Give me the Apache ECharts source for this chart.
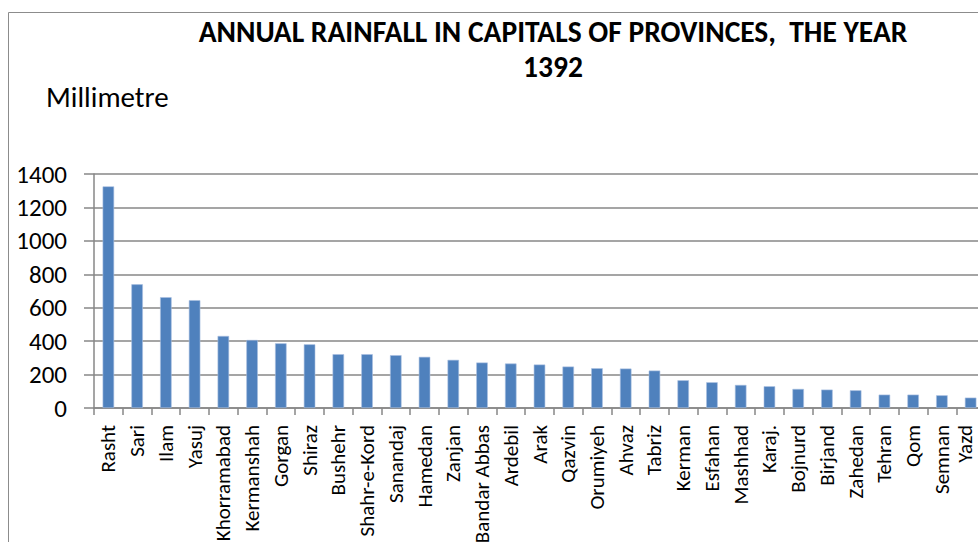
<!DOCTYPE html>
<html>
<head>
<meta charset="utf-8">
<title>Annual rainfall in capitals of provinces, 1392</title>
<script src="https://cdn.jsdelivr.net/npm/echarts@6/dist/echarts.min.js"></script>
<style>
  html, body { margin: 0; padding: 0; background: #ffffff; }
  #chart { width: 978px; height: 542px; }
</style>
</head>
<body>
<div id="chart"></div>
<script>
// Province capitals, ordered from wettest to driest
const cities = [
  'Rasht', 'Sari', 'Ilam', 'Yasuj', 'Khorramabad', 'Kermanshah', 'Gorgan', 'Shiraz',
  'Bushehr', 'Shahr-e-Kord', 'Sanandaj', 'Hamedan', 'Zanjan', 'Bandar Abbas', 'Ardebil',
  'Arak', 'Qazvin', 'Orumiyeh', 'Ahvaz', 'Tabriz', 'Kerman', 'Esfahan', 'Mashhad',
  'Karaj.', 'Bojnurd', 'Birjand', 'Zahedan', 'Tehran', 'Qom', 'Semnan', 'Yazd'
];

// Annual rainfall, millimetres
const rainfall = [
  1326, 740, 663, 645, 431, 407, 387, 381,
  322, 322, 316, 306, 288, 272, 266,
  260, 248, 238, 236, 224, 166, 154, 138,
  130, 114, 110, 106, 80, 80, 76, 62
];

// Value axis ticks
const yTicks = [0, 200, 400, 600, 800, 1000, 1200, 1400];

const titleLines = ['ANNUAL RAINFALL IN CAPITALS OF PROVINCES,  THE YEAR', '1392'];
const unitLabel = 'Millimetre';

const FONT = 'Carlito, Lato, "Open Sans", sans-serif';
const AXIS_GREY = '#878787';

// The last category sits at the right edge of the page; its label gets a
// little extra padding so the rotated text stays inside the canvas.
const lastIndex = cities.length - 1;
const labelFormatter = (name, idx) => (idx === lastIndex ? '{edge|' + name + '}' : name);

const chart = echarts.init(document.getElementById('chart'), null, { renderer: 'svg' });

chart.setOption({
  backgroundColor: '#ffffff',
  animation: false,
  graphic: [
    {
      type: 'rect',
      shape: { x: 8.5, y: 12.5, width: 1200, height: 700 },
      style: { fill: 'none', stroke: '#8c8c8c', lineWidth: 1 },
      silent: true,
      z: -1
    },
    {
      type: 'text',
      x: 553, y: 32,
      style: {
        text: titleLines[0],
        font: 'bold 29.5px ' + FONT,
        fill: '#000000',
        textAlign: 'center',
        textVerticalAlign: 'middle'
      }
    },
    {
      type: 'text',
      x: 553, y: 67,
      style: {
        text: titleLines[1],
        font: 'bold 29.5px ' + FONT,
        fill: '#000000',
        textAlign: 'center',
        textVerticalAlign: 'middle'
      }
    },
    {
      type: 'text',
      x: 46, y: 97,
      style: {
        text: unitLabel,
        font: '29px ' + FONT,
        fill: '#000000',
        textAlign: 'left',
        textVerticalAlign: 'middle'
      }
    }
  ],
  grid: {
    left: 94,
    top: 174,
    width: 891,
    height: 234,
    containLabel: false,
    outerBoundsMode: 'none'
  },
  xAxis: {
    type: 'category',
    data: cities,
    boundaryGap: true,
    axisLine: { lineStyle: { color: AXIS_GREY, width: 1.5 } },
    axisTick: { show: true, alignWithLabel: false, length: 7, lineStyle: { color: AXIS_GREY, width: 1.5 } },
    axisLabel: {
      interval: 0,
      rotate: 90,
      margin: 17,
      color: '#000000',
      fontFamily: FONT,
      fontSize: 21,
      formatter: labelFormatter,
      rich: {
        edge: {
          fontFamily: FONT,
          fontSize: 21,
          color: '#000000',
          padding: [0, 0, 12, 0]
        }
      }
    },
    splitLine: { show: false }
  },
  yAxis: {
    type: 'value',
    min: yTicks[0],
    max: yTicks[yTicks.length - 1],
    interval: yTicks[1] - yTicks[0],
    axisLine: { show: true, lineStyle: { color: AXIS_GREY, width: 1.5 } },
    axisTick: { show: true, length: 10, lineStyle: { color: AXIS_GREY, width: 1.5 } },
    axisLabel: {
      margin: 27,
      color: '#000000',
      fontFamily: FONT,
      fontSize: 25,
      formatter: (v) => String(v)
    },
    splitLine: { show: true, lineStyle: { color: AXIS_GREY, width: 1.5 } }
  },
  series: [
    {
      type: 'bar',
      data: rainfall,
      barWidth: 11.5,
      itemStyle: { color: '#4f81bd', borderColor: '#a9c0e0', borderWidth: 0.6 }
    }
  ]
});
</script>
</body>
</html>
